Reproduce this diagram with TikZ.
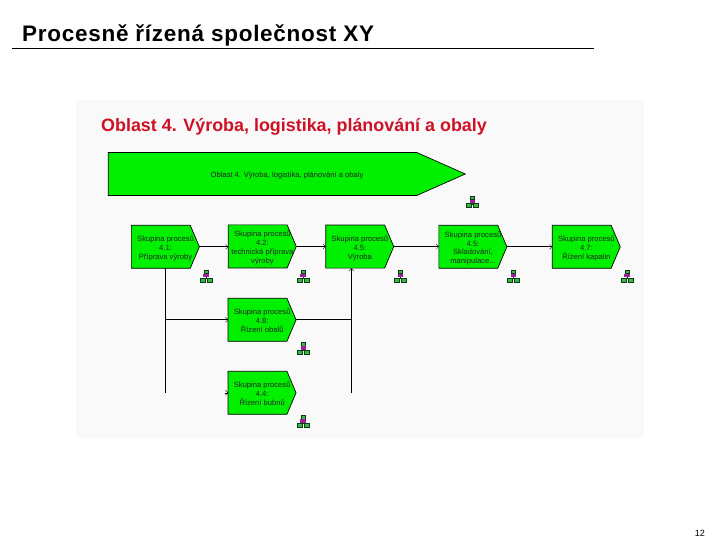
\documentclass[tikz,border=0pt]{standalone}
\usepackage{fontspec}
\setmainfont{Liberation Sans}
\newfontfamily\titlefont[LetterSpace=3.2]{Liberation Sans}
\usetikzlibrary{shapes.symbols,arrows.meta}
\definecolor{panelbg}{HTML}{F9F9F9}
\definecolor{procgreen}{HTML}{00F000}
\definecolor{titlered}{HTML}{CE1126}
\definecolor{icongreen}{HTML}{3DB54A}
\definecolor{iconline}{HTML}{0B3D14}
\definecolor{iconmag}{HTML}{A0209A}
\newcommand\ptext[2][9.4pt]{\makebox[0pt]{\hskip#1\raisebox{-3.9pt}[0pt][0pt]{\begin{tabular}{@{}c@{}}#2\end{tabular}}}}
\tikzset{
  proc/.style={signal, signal to=east, signal pointer angle=134, draw=black, line width=0.7pt,
    fill=procgreen, inner sep=0pt, outer sep=0pt, minimum width=68pt, minimum height=43pt,
    font=\fontsize{7.6}{8.8}\selectfont, text=black!85},
  link/.style={draw=black, line width=0.8pt},
  flow/.style={link, -{Straight Barb[length=2.5pt,width=5pt,line width=0.3pt]}},
  stub/.style={draw=black, line width=0.3pt, -{Straight Barb[length=2.5pt,width=5pt,line width=0.3pt]}},
  iconbox/.style={draw=iconline, line width=0.6pt, fill=icongreen},
  hier/.pic={
    \draw[iconline, line width=0.6pt] (0,3) -- (0,8) (-3.5,8) -- (3.5,8);
    \path[iconbox] (-2.2,0) rectangle (2.2,3.6);
    \fill[iconmag] (-2.8,3.6) rectangle (2.8,7.2);
    \path[iconbox] (-5.8,7.8) rectangle (-0.8,11.8);
    \path[iconbox] (0.8,7.8) rectangle (5.8,11.8);
  }
}
\begin{document}
\begin{tikzpicture}[x=1pt,y=-1pt]
\useasboundingbox (0,0) rectangle (720,540);
\fill[white] (0,0) rectangle (720,540);
\node[anchor=base west, inner sep=0pt, font=\titlefont\bfseries\fontsize{22.5}{26}\selectfont] (title) at (22,41.5) {Procesně řízená společnost XY};
\coordinate (ruleA) at (12,48);
\coordinate (ruleB) at (594,48);
\draw[line width=0.8pt] (ruleA) -- (ruleB);
\fill[panelbg] (76,100) rectangle (644,437.5);
\node[anchor=base west, inner sep=0pt, font=\bfseries\fontsize{17.9}{20}\selectfont, text=titlered] (head) at (101,131.5) {Oblast 4. Výroba, logistika, plánování a obaly};

\node[proc, minimum width=357pt, signal pointer angle=47.8] (area) at (262.5,174) {\ptext[49pt]{Oblast 4. Výroba, logistika, plánování a obaly}};

\node[proc] (p41) at (160.8,246.8) {\ptext{Skupina procesů\\4.1:\\Příprava výroby}};
\node[proc] (p42) at (257.7,246.4) {\ptext{Skupina procesů\\4.2:\\technická příprava\\výroby}};
\node[proc] (p43) at (355.2,246.6) {\ptext{Skupina procesů\\4.5:\\Výroba}};
\node[proc] (p45) at (468.3,246.8) {\ptext{Skupina procesů\\4.5:\\Skladování,\\manipulace...}};
\node[proc] (p47) at (581.7,246.8) {\ptext{Skupina procesů\\4.7:\\Řízení kapalin}};
\node[proc] (p48) at (257.5,319.8) {\ptext{Skupina procesů\\4.8:\\Řízení obalů}};
\node[proc] (p44) at (257.5,392.8) {\ptext{Skupina procesů\\4.4:\\Řízení bubnů}};

\coordinate (down) at ([xshift=4.5pt]p41.south);
\coordinate (split) at (down |- p48.west);
\coordinate (leftend) at (down |- p44.west);
\coordinate (join) at (351.3,319.8);
\coordinate (rightend) at (351.3,392.8);
\coordinate (joinup) at (351.3,268.3);
\coordinate (stubstart) at ([xshift=-3.5pt]p44.west);

\draw[flow] (p41.east) -- (p42.west |- p41.east);
\draw[flow] (p42.east) -- (p43.west |- p42.east);
\draw[flow] (p43.east) -- (p45.west |- p43.east);
\draw[flow] (p45.east) -- (p47.west |- p45.east);
\draw[link] (down) -- (leftend);
\draw[flow] (split) -- (p48.west);
\draw[link] (p48.east) -- (join);
\draw[link] (rightend) -- (join);
\draw[flow] (join) -- (joinup);
\draw[stub] (stubstart) -- (p44.west);

\pic at (472.3,196) {hier};
\pic at (206,270) {hier};
\pic at (303,270) {hier};
\pic at (400.5,270) {hier};
\pic at (513.3,270) {hier};
\pic at (627,270) {hier};
\pic at (303.3,342.5) {hier};
\pic at (303,415.5) {hier};

\node[anchor=base east, inner sep=0pt, font=\fontsize{9}{10}\selectfont] (page) at (705,536) {12};
\end{tikzpicture}
\end{document}
